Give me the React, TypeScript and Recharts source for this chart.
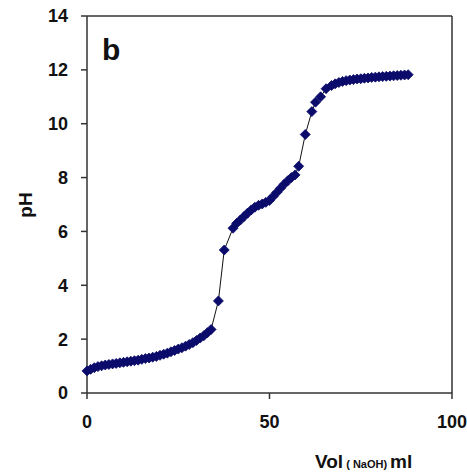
import { LineChart, Line, XAxis, YAxis, ReferenceLine } from 'recharts';

// titration: added NaOH volume (ml) vs measured pH
const volume = [
  0, 1, 2, 3, 4, 5, 6, 7, 8, 9, 10, 11, 12, 13, 14, 15, 16, 17, 18, 19, 20,
  21, 22, 23, 24, 25, 26, 27, 28, 29, 30, 31, 32, 33, 34,
  36, 37.6, 40, 41, 42, 43, 44, 45, 46, 47, 48, 49, 50, 51, 52, 53, 54, 55,
  56, 57, 58, 59.8, 61.6, 62.6, 64, 65.5, 67, 68, 69, 70, 71, 72, 73, 74,
  75, 76, 77, 78, 79, 80, 81, 82, 83, 84, 85, 86, 87, 88,
];
const ph = [
  0.82, 0.88, 0.94, 0.98, 1.01, 1.04, 1.06, 1.08, 1.1, 1.12, 1.14, 1.16, 1.18,
  1.2, 1.22, 1.25, 1.28, 1.3, 1.33, 1.36, 1.4, 1.44, 1.48, 1.53, 1.58, 1.63,
  1.68, 1.74, 1.8, 1.87, 1.95, 2.04, 2.13, 2.24, 2.36,
  3.42, 5.31, 6.12, 6.3, 6.42, 6.55, 6.68, 6.8, 6.9, 6.97, 7.02, 7.08, 7.15,
  7.3, 7.45, 7.6, 7.75, 7.88, 8.0, 8.1, 8.42, 9.6, 10.45, 10.8, 11.0, 11.3,
  11.42, 11.48, 11.53, 11.57, 11.6, 11.62, 11.64, 11.66, 11.67, 11.69, 11.7,
  11.72, 11.73, 11.74, 11.75, 11.76, 11.77, 11.78, 11.79, 11.8, 11.81, 11.82,
];
const xTicks = [0, 50, 100];
const yTicks = [0, 2, 4, 6, 8, 10, 12, 14];

const data = volume.map((v, i) => ({ vol: v, ph: ph[i] }));

const FONT = '"Liberation Sans", Arial, sans-serif';
const AXIS = '#333';
const NAVY = '#0b0b6b';

const Diamond = (props: any) => {
  const { cx, cy, index } = props;
  if (cx == null || cy == null) return null;
  const r = 5;
  return (
    <path
      key={`d-${index}`}
      d={`M${cx},${cy - r} L${cx + r},${cy} L${cx},${cy + r} L${cx - r},${cy} Z`}
      fill={NAVY}
      stroke={NAVY}
      strokeWidth={0.8}
    />
  );
};

const tickStyle = { fill: '#111', fontSize: 18, fontWeight: 'bold', fontFamily: FONT };

export default function App() {
  return (
    <div style={{ position: 'absolute', left: 0, top: 0, background: '#fff' }}>
      <LineChart
        width={467}
        height={472}
        data={data}
        margin={{ top: 16, right: 15, bottom: 0, left: 0 }}
      >
        <XAxis
          dataKey="vol"
          type="number"
          domain={[0, 100]}
          ticks={xTicks}
          tickSize={6}
          tickMargin={16}
          stroke={AXIS}
          strokeWidth={1.5}
          tick={tickStyle}
          height={79}
        />
        <YAxis
          dataKey="ph"
          type="number"
          domain={[0, 14]}
          ticks={yTicks}
          tickSize={6}
          tickMargin={13}
          stroke={AXIS}
          strokeWidth={1.5}
          tick={tickStyle}
          width={87}
        />
        <ReferenceLine y={14} stroke={AXIS} strokeWidth={1.5} />
        <ReferenceLine x={100} stroke={AXIS} strokeWidth={1.5} />
        <Line
          dataKey="ph"
          type="linear"
          stroke="#111"
          strokeWidth={1}
          dot={<Diamond />}
          isAnimationActive={false}
        />
        <text x={102} y={60} fontFamily={FONT} fontWeight="bold" fontSize={30} fill="#111">
          b
        </text>
        <text
          x={32}
          y={205}
          transform="rotate(-90 32 205)"
          textAnchor="middle"
          fontFamily={FONT}
          fontWeight="bold"
          fontSize={19}
          fill="#111"
        >
          pH
        </text>
        <text x={315} y={468} fontFamily={FONT} fontWeight="bold" fontSize={19} fill="#111">
          Vol
          <tspan fontSize={11} dx={3}>( NaOH)</tspan>
          <tspan dx={3}>ml</tspan>
        </text>
      </LineChart>
    </div>
  );
}
